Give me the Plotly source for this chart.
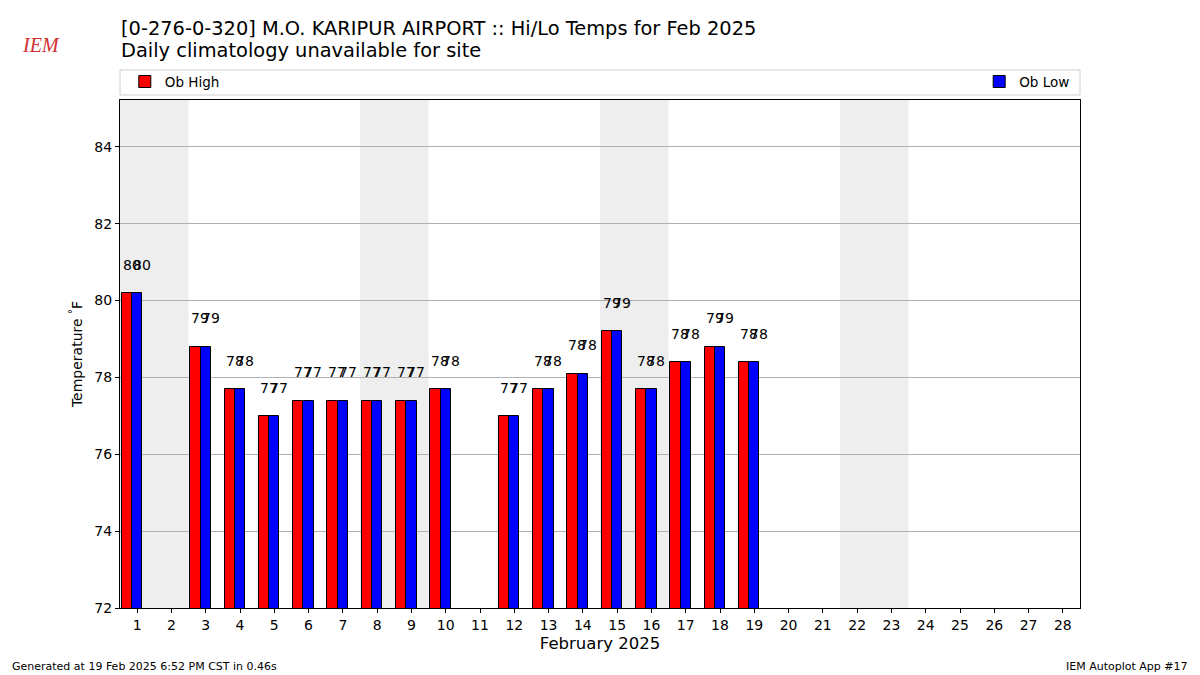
import plotly.graph_objects as go
import pandas as pd

# ---- data ----
days = list(range(1, 20))
ob_high = [80.2, None, 78.8, 77.7, 77.0, 77.4, 77.4, 77.4, 77.4, 77.7,
           None, 77.0, 77.7, 78.1, 79.2, 77.7, 78.4, 78.8, 78.4]
ob_low = [80.2, None, 78.8, 77.7, 77.0, 77.4, 77.4, 77.4, 77.4, 77.7,
          None, 77.0, 77.7, 78.1, 79.2, 77.7, 78.4, 78.8, 78.4]
month_days = list(range(1, 29))
y_ticks = [72, 74, 76, 78, 80, 82, 84]
title1 = "[0-276-0-320] M.O. KARIPUR AIRPORT :: Hi/Lo Temps for Feb 2025"
title2 = "Daily climatology unavailable for site"

FONT = "DejaVu Sans"
BAR_W = 0.3

fig = go.Figure()
fig.add_trace(go.Bar(x=days, y=ob_high, width=BAR_W, offset=-0.45, base=0,
                     marker=dict(color="#ff0000", line=dict(color="black", width=1)),
                     name="Ob High", legend="legend"))
fig.add_trace(go.Bar(x=days, y=ob_low, width=BAR_W, offset=-0.15, base=0,
                     marker=dict(color="#0000ff", line=dict(color="black", width=1)),
                     name="Ob Low", legend="legend2"))

annotations = []
for d, hi, lo in zip(days, ob_high, ob_low):
    for v, off in ((hi, -0.45), (lo, -0.15)):
        if v is None:
            continue
        annotations.append(dict(x=d + off, y=v + 0.5, xref="x", yref="y",
                                text=f"{round(v):.0f}", showarrow=False,
                                xanchor="left", yanchor="bottom",
                                font=dict(family=FONT, size=14, color="black"),
                                borderpad=0))

# weekend shading (contiguous weekend days merged)
shapes = []
weekend = [d for d in month_days if pd.Timestamp(2025, 2, d).weekday() >= 5]
groups = []
for d in weekend:
    if groups and d == groups[-1][-1] + 1:
        groups[-1].append(d)
    else:
        groups.append([d])
for g in groups:
    shapes.append(dict(type="rect", xref="x", yref="paper", x0=g[0] - 0.5, x1=g[-1] + 0.5,
                       y0=0, y1=1, fillcolor="#eeeeee", line=dict(width=0),
                       layer="below"))
# legend frame
shapes.append(dict(type="rect", xref="paper", yref="paper", x0=0, x1=1,
                   y0=1.0098, y1=1.059, line=dict(color="#d0d0d0", width=1),
                   fillcolor="white", layer="above"))

fig.update_layout(
    width=1200, height=675,
    margin=dict(l=120, r=120, t=100, b=67),
    paper_bgcolor="white", plot_bgcolor="white",
    font=dict(family=FONT, size=14, color="black"),
    barmode="overlay",
    bargap=0,
    showlegend=True,
    legend=dict(x=0.005, xanchor="left", y=1.036, yanchor="middle",
                orientation="h", bgcolor="rgba(0,0,0,0)",
                font=dict(family=FONT, size=13.5)),
    legend2=dict(x=0.995, xanchor="right", y=1.036, yanchor="middle",
                 orientation="h", bgcolor="rgba(0,0,0,0)",
                 font=dict(family=FONT, size=13.5)),
    xaxis=dict(range=[0.5, 28.5], tickvals=month_days, ticktext=[str(d) for d in month_days],
               ticks="outside", ticklen=4, tickcolor="black", showgrid=False,
               showline=True, linecolor="black", linewidth=1, mirror=True, zeroline=False,
               tickfont=dict(size=14), title=dict(text="February 2025", font=dict(size=16.5),
                                                  standoff=5)),
    yaxis=dict(range=[72, 85.22], tickvals=y_ticks, ticks="outside", ticklen=4,
               tickcolor="black", showgrid=True, gridcolor="#b0b0b0", gridwidth=1,
               showline=True, linecolor="black", linewidth=1, mirror=True, zeroline=False,
               tickfont=dict(size=14),
               title=dict(text="Temperature <sup>°</sup>F", font=dict(size=14), standoff=8)),
    shapes=shapes,
)

def py(pix):
    return 1 + (100 - pix) / 508.0

def px(pix):
    return (pix - 120) / 960.0

annotations += [
    dict(x=px(119), y=py(42), xref="paper", yref="paper", text=title1, showarrow=False,
         xanchor="left", yanchor="bottom", font=dict(family=FONT, size=19.4)),
    dict(x=px(119), y=py(64), xref="paper", yref="paper", text=title2, showarrow=False,
         xanchor="left", yanchor="bottom", font=dict(family=FONT, size=19.4)),
    dict(x=px(10), y=py(675), xref="paper", yref="paper",
         text="Generated at 19 Feb 2025 6:52 PM CST in 0.46s", showarrow=False,
         xanchor="left", yanchor="bottom", font=dict(family=FONT, size=11)),
    dict(x=px(1190), y=py(675), xref="paper", yref="paper",
         text="IEM Autoplot App #17", showarrow=False,
         xanchor="right", yanchor="bottom", font=dict(family=FONT, size=11)),
    dict(x=px(20), y=py(58), xref="paper", yref="paper",
         text="<i>IEM</i>", showarrow=False, xanchor="left", yanchor="bottom",
         font=dict(family="Liberation Serif", size=20, color="#d03030")),
]
fig.update_layout(annotations=annotations)

fig.write_html("out.html")
